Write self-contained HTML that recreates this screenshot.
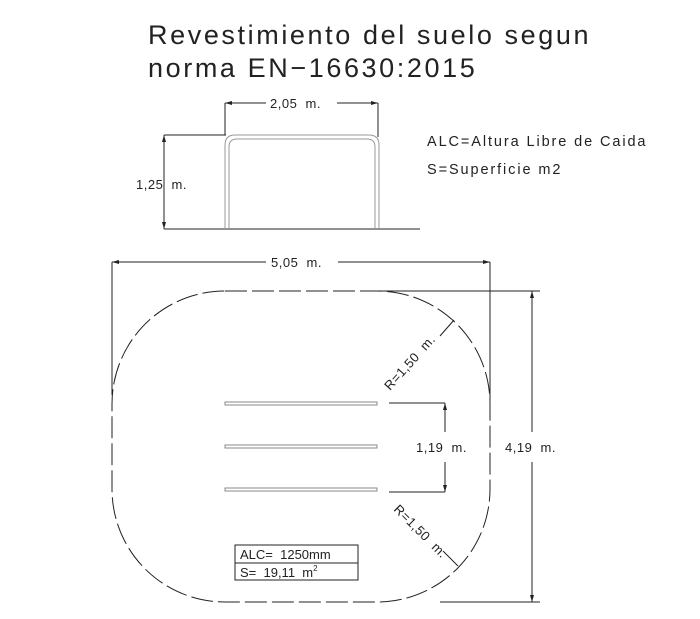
<!DOCTYPE html>
<html><head><meta charset="utf-8"><style>
html,body{margin:0;padding:0;background:#fff}
svg{display:block}
text{font-family:"Liberation Sans",sans-serif;fill:#222;white-space:pre}
</style></head><body>
<svg width="700" height="619" viewBox="0 0 700 619" xmlns="http://www.w3.org/2000/svg" xml:space="preserve">
<text x="148" y="44" font-size="27" letter-spacing="2.6" fill="#444">Revestimiento del suelo segun</text>
<text x="148" y="77" font-size="27" letter-spacing="2.6" fill="#444">norma EN−16630:2015</text>
<text x="427" y="146" font-size="14.5" letter-spacing="1.9">ALC=Altura Libre de Caida</text>
<text x="427" y="174" font-size="14.5" letter-spacing="1.9">S=Superficie m2</text>
<g stroke="#222" stroke-width="1" fill="none">
<line x1="164" y1="229" x2="420" y2="229"/>
<line x1="164" y1="135" x2="226" y2="135"/>
<line x1="164" y1="135" x2="164" y2="229"/>
<line x1="225" y1="103" x2="225" y2="135"/>
<line x1="378" y1="103" x2="378" y2="137"/>
<line x1="225" y1="103" x2="266" y2="103"/>
<line x1="337" y1="103" x2="378" y2="103"/>
<path d="M225 229 V145 Q225 135 235 135 H369 Q379 135 379 145 V229" stroke="#999"/>
<path d="M229 229 V147 Q229 139 237 139 H367 Q375 139 375 147 V229" stroke="#999"/>
<line x1="112" y1="262" x2="266" y2="262"/>
<line x1="338" y1="262" x2="490" y2="262"/>
<line x1="112" y1="262" x2="112" y2="395"/>
<line x1="490" y1="262" x2="490" y2="400"/>
<line x1="370" y1="291" x2="540" y2="291"/>
<line x1="440" y1="602" x2="540" y2="602"/>
<line x1="532" y1="291" x2="532" y2="432"/>
<line x1="532" y1="462" x2="532" y2="602"/>
<rect x="112" y="291" width="378" height="311" rx="113" ry="113" stroke-dasharray="22 5"/>
<g stroke="#888"><rect x="225" y="402" width="152" height="3"/><rect x="225" y="445" width="152" height="3"/><rect x="225" y="488" width="152" height="3"/></g>
<line x1="389" y1="403" x2="445" y2="403"/>
<line x1="389" y1="492" x2="445" y2="492"/>
<line x1="445" y1="403" x2="445" y2="432"/>
<line x1="445" y1="462" x2="445" y2="492"/>
<line x1="440" y1="336" x2="454" y2="320"/>
<line x1="443" y1="551" x2="458" y2="566"/>
<rect x="235" y="545" width="123" height="35"/>
<line x1="235" y1="563" x2="358" y2="563"/>
</g>
<g fill="#222">
<path d="M164 135 l-2 7 h4z M164 229 l-2 -7 h4z"/>
<path d="M225 103 l7 -2 v4z M378 103 l-7 -2 v4z"/>
<path d="M112 262 l7 -2 v4z M490 262 l-7 -2 v4z"/>
<path d="M532 291 l-2 7 h4z M532 602 l-2 -7 h4z"/>
<path d="M445 403 l-2 7 h4z M445 492 l-2 -7 h4z"/>
</g>
<text x="270" y="108" font-size="13" letter-spacing="0.5">2,05  m.</text>
<text x="136" y="189" font-size="13" letter-spacing="0.5">1,25  m.</text>
<text x="271" y="267" font-size="13" letter-spacing="0.5">5,05  m.</text>
<text x="416" y="452" font-size="13" letter-spacing="0.5">1,19  m.</text>
<text x="505" y="452" font-size="13" letter-spacing="0.5">4,19  m.</text>
<text x="0" y="0" font-size="13" letter-spacing="0.5" transform="translate(390 391) rotate(-48)">R=1,50  m.</text>
<text x="0" y="0" font-size="13" letter-spacing="0.5" transform="translate(393 510) rotate(45)">R=1,50  m.</text>
<text x="240" y="559" font-size="13">ALC=  1250mm</text>
<text x="240" y="577" font-size="13">S=  19,11  m<tspan font-size="8" dy="-6">2</tspan></text>
</svg>
</body></html>
